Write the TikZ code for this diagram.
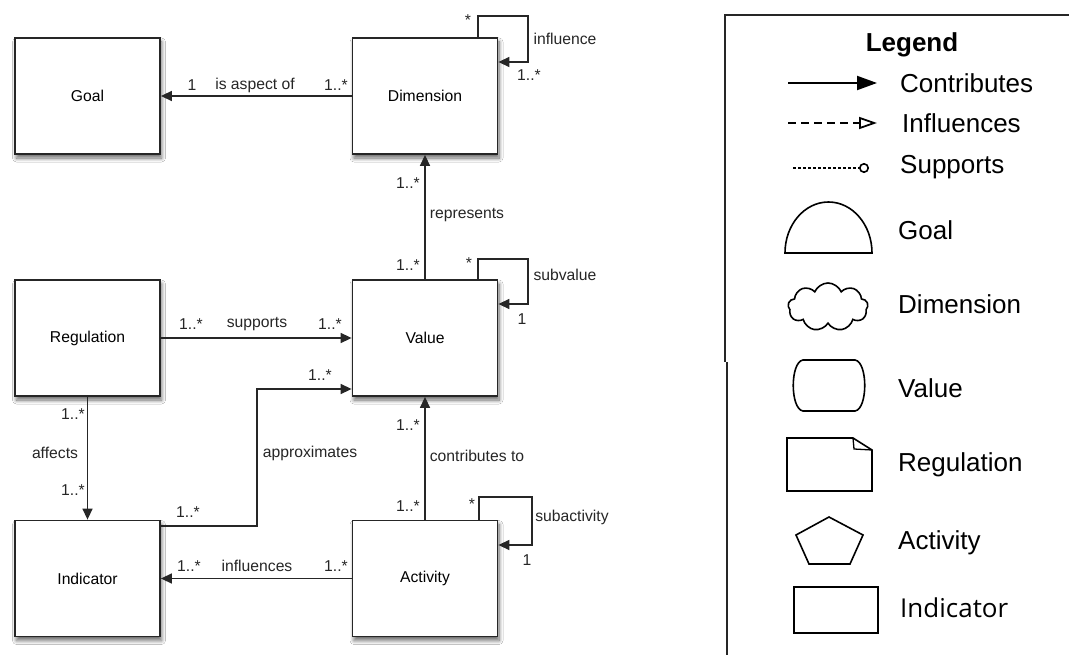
\documentclass[tikz,border=0pt]{standalone}
\usepackage{fontspec}
\setmainfont{Liberation Sans}
\newfontfamily\indfont{Open Sans}
\usetikzlibrary{arrows.meta,shapes.symbols,shadows.blur}
\definecolor{ink}{HTML}{262626}
\tikzset{
  cls/.style={draw=ink, line width=1.8pt, fill=white, minimum width=145pt, minimum height=116pt,
    inner sep=0pt, font=\fontsize{15.7}{18}\selectfont,
    blur shadow={shadow xshift=1.5pt, shadow yshift=-4pt, shadow blur steps=8, shadow blur radius=4pt, shadow opacity=60}},
  arr/.style={draw=ink, line width=1.4pt, -{Triangle[length=11pt,width=10pt]}},
  lbl/.style={font=\fontsize{15.7}{18}\selectfont, inner sep=0pt, text=ink},
  leg/.style={font=\fontsize{26}{30}\selectfont, anchor=west, inner sep=0pt},
  legshape/.style={draw=black, line width=1.6pt},
}
\begin{document}
\begin{tikzpicture}[x=1pt,y=-1pt]
\useasboundingbox (0,0) rectangle (1069,655);
\fill[white] (0,0) rectangle (1069,655);

% classes
\node[cls] (goal) at (87.5,96) {Goal};
\node[cls] (dim) at (425,96) {Dimension};
\node[cls] (reg) at (87.5,338) {Regulation};
\node[cls] (val) at (425,338) {Value};
\node[cls] (ind) at (87.5,578.5) {Indicator};
\node[cls] (act) at (425,578.5) {Activity};

% associations
\draw[arr] (dim) -- (goal);
\draw[arr] (val) -- (dim);
\draw[arr] (reg) -- (val);
\draw[arr] (reg) -- (ind);
\draw[arr] (act) -- (val);
\draw[arr] (act) -- (ind);
\draw[arr] (ind.east |- 0,526) -| (257,389) -- (val.west |- 0,389);

% self associations
\draw[arr] (dim.north -| 478,0) |- (528,16) |- (dim.east |- 0,62);
\draw[arr] (val.north -| 478,0) |- (528,259) |- (val.east |- 0,304);
\draw[arr] (act.north -| 479,0) |- (532,497) |- (act.east |- 0,545);

% multiplicities and role names
\node[lbl] (l1) at (192,85) {1};
\node[lbl] (l2) at (255,85) {is aspect of};
\node[lbl] (l3) at (336,85) {1..*};
\node[lbl] (l4) at (468,20) {*};
\node[lbl] (l5) at (565,39) {influence};
\node[lbl] (l6) at (529,75) {1..*};
\node[lbl] (l7) at (408,183) {1..*};
\node[lbl] (l8) at (467,215) {represents};
\node[lbl] (l9) at (408,265) {1..*};
\node[lbl] (l10) at (469,263) {*};
\node[lbl] (l11) at (565,275) {subvalue};
\node[lbl] (l12) at (522,319) {1};
\node[lbl] (l13) at (191,324) {1..*};
\node[lbl] (l14) at (257,324) {supports};
\node[lbl] (l15) at (330,324) {1..*};
\node[lbl] (l16) at (320,375) {1..*};
\node[lbl] (l17) at (310,453) {approximates};
\node[lbl] (l18) at (188,512) {1..*};
\node[lbl] (l19) at (73,414) {1..*};
\node[lbl] (l20) at (55,453) {affects};
\node[lbl] (l21) at (73,490) {1..*};
\node[lbl] (l22) at (189,566) {1..*};
\node[lbl] (l23) at (257,566) {influences};
\node[lbl] (l24) at (336,566) {1..*};
\node[lbl] (l25) at (408,425) {1..*};
\node[lbl] (l26) at (477,456) {contributes to};
\node[lbl] (l27) at (408,506) {1..*};
\node[lbl] (l28) at (472,504) {*};
\node[lbl] (l29) at (572,517) {subactivity};
\node[lbl] (l30) at (527,560) {1};

% legend frame
\draw[draw=ink, line width=1.5pt] (1069,15) -- (725,15) -- (725,362);
\draw[draw=ink, line width=1.5pt] (727,362) -- (727,655);

\node[font=\fontsize{26}{30}\selectfont\bfseries, inner sep=0pt] (legtitle) at (912,45) {Legend};

% legend: relation kinds
\coordinate (c1a) at (788,83);  \coordinate (c1b) at (877,83);
\draw[line width=2pt, -{Triangle[length=20pt,width=14pt]}] (c1a) -- (c1b);
\node[leg] (t1) at (900,83) {Contributes};

\coordinate (c2a) at (788,123); \coordinate (c2b) at (877,123);
\draw[line width=1.8pt, dash pattern=on 8pt off 5pt, -{Triangle[open,length=18pt,width=12pt,line width=1.8pt]}] (c2a) -- (c2b);
\node[leg] (t2) at (902,123) {Influences};

\coordinate (c3a) at (793,168); \coordinate (c3b) at (869,168);
\draw[line width=1.5pt, dash pattern=on 2.5pt off 2.5pt, -{Circle[open,length=10pt,line width=1.6pt]}] (c3a) -- (c3b);
\node[leg] (t3) at (900,167) {Supports};

% legend: element kinds
\draw[legshape] (785,253) -- (872,253) arc[start angle=0, end angle=180, x radius=43.5pt, y radius=51pt] -- cycle;
\node[leg] (t4) at (898,230) {Goal};

\node[cloud, cloud puffs=9, cloud puff arc=135, aspect=1.7, draw=black, line width=1.6pt,
      minimum width=80pt, minimum height=48pt, inner sep=0pt] (cloudsym) at (828,307) {};
\node[leg] (t5) at (898,304) {Dimension};

\draw[legshape] (803,360) -- (855,360) .. controls (868,362) and (868,409) .. (855,411)
  -- (803,411) .. controls (790,409) and (790,362) .. (803,360) -- cycle;
\node[leg] (t6) at (898,388) {Value};

\draw[legshape] (787,438) -- (853,438) -- (872,450) -- (872,491) -- (787,491) -- cycle;
\draw[line width=1.3pt] (853,438) -- (854,449) -- (872,450);
\node[leg] (t7) at (898,465) {Regulation};

\draw[legshape] (829,517) -- (863,535) -- (850,564) -- (809,564) -- (796,535) -- cycle;
\node[leg] (t8) at (898,543) {Activity};

\draw[legshape] (794,587) rectangle (878,633);
\node[leg, font=\fontsize{26}{30}\selectfont\indfont] (t9) at (900,608) {Indicator};
\end{tikzpicture}
\end{document}
